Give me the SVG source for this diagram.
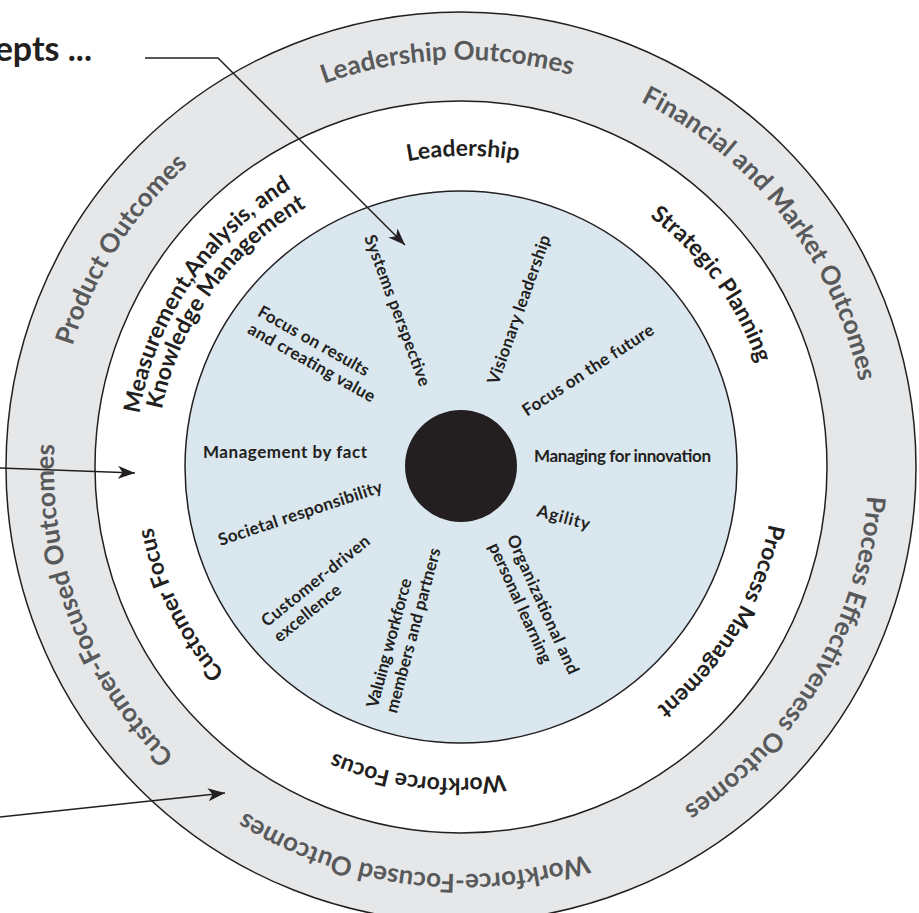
<svg xmlns="http://www.w3.org/2000/svg" xmlns:xlink="http://www.w3.org/1999/xlink" width="919" height="913" viewBox="0 0 919 913">
<defs>
<style>
.ring{stroke:#231f20;stroke-width:1.5}
.out{font-family:Lato,"Liberation Sans",sans-serif;font-weight:bold;font-size:26px;fill:#58595b}
.cat{font-family:Lato,"Liberation Sans",sans-serif;font-weight:bold;font-size:23px;fill:#231f20}
.val{font-family:Lato,"Liberation Sans",sans-serif;font-weight:bold;font-size:17px;fill:#231f20}
.con{fill:none;stroke:#231f20;stroke-width:1.5}
</style>
<marker id="ah" markerUnits="userSpaceOnUse" markerWidth="20" markerHeight="14" refX="17" refY="6.5" orient="auto">
<path d="M0,0 L17,6.5 L0,13 L4.5,6.5 z" fill="#231f20"/>
</marker>
<path id="po" d="M633.0,835.9 A407,407 0 1,1 289.0,98.1 A407,407 0 1,1 633.0,835.9"/>
<path id="pw" d="M591.6,747.0 A309,309 0 1,1 330.4,187.0 A309,309 0 1,1 591.6,747.0"/>
<path id="pm" d="M598.8,762.5 A326,326 0 1,1 323.2,171.5 A326,326 0 1,1 598.8,762.5"/>
<path id="pk" d="M588.6,740.7 A302,302 0 1,1 333.4,193.3 A302,302 0 1,1 588.6,740.7"/>
</defs>
<rect width="919" height="913" fill="#ffffff"/>

<g id="results-ring">
<circle class="ring" cx="461" cy="467" r="455" fill="#e6e7e8"/>
<text class="out"><textPath xlink:href="#po" href="#po" startOffset="56.4%" text-anchor="middle">Leadership Outcomes</textPath></text>
<text class="out"><textPath xlink:href="#po" href="#po" startOffset="71.4%" text-anchor="middle">Financial and Market Outcomes</textPath></text>
<text class="out"><textPath xlink:href="#po" href="#po" startOffset="90.4%" text-anchor="middle">Process Effectiveness Outcomes</textPath></text>
<text class="out"><textPath xlink:href="#po" href="#po" startOffset="8.9%" text-anchor="middle">Workforce-Focused Outcomes</textPath></text>
<text class="out"><textPath xlink:href="#po" href="#po" startOffset="26.1%" text-anchor="middle">Customer-Focused Outcomes</textPath></text>
<text class="out"><textPath xlink:href="#po" href="#po" startOffset="41.0%" text-anchor="middle">Product Outcomes</textPath></text>
</g>

<g id="process-ring">
<circle class="ring" cx="461" cy="467" r="366" fill="#ffffff"/>
<text class="cat"><textPath xlink:href="#pw" href="#pw" startOffset="57.0%" text-anchor="middle">Leadership</textPath></text>
<text class="cat"><textPath xlink:href="#pw" href="#pw" startOffset="71.9%" text-anchor="middle">Strategic Planning</textPath></text>
<text class="cat"><textPath xlink:href="#pw" href="#pw" startOffset="90.5%" text-anchor="middle">Process Management</textPath></text>
<text class="cat"><textPath xlink:href="#pw" href="#pw" startOffset="9.1%" text-anchor="middle">Workforce Focus</textPath></text>
<text class="cat"><textPath xlink:href="#pw" href="#pw" startOffset="24.7%" text-anchor="middle">Customer Focus</textPath></text>
<text class="cat"><textPath xlink:href="#pm" href="#pm" startOffset="41.4%" text-anchor="middle">Measurement,Analysis, and</textPath></text>
<text class="cat"><textPath xlink:href="#pk" href="#pk" startOffset="41.7%" text-anchor="middle">Knowledge Management</textPath></text>
</g>

<g id="core-values">
<circle class="ring" cx="461" cy="467" r="276" fill="#dae7ef"/>
<text class="val" transform="translate(364,237.6) rotate(69.5)" textLength="160" lengthAdjust="spacing">Systems perspective</text>
<text class="val" transform="translate(497.9,385.5) rotate(-70.3)" textLength="157" lengthAdjust="spacing">Visionary leadership</text>
<text class="val" transform="translate(527.1,416.7) rotate(-33.1)" textLength="153" lengthAdjust="spacing">Focus on the future</text>
<text class="val" x="534" y="462" textLength="177" lengthAdjust="spacing">Managing for innovation</text>
<text class="val" transform="translate(536,516) rotate(15)" textLength="54" lengthAdjust="spacing">Agility</text>
<g transform="translate(506.5,538.1) rotate(65.6)">
<text class="val" x="0" y="0" textLength="151" lengthAdjust="spacing">Organizational and</text>
<text class="val" x="0" y="20" textLength="130" lengthAdjust="spacing">personal learning</text>
</g>
<g transform="translate(377.4,708.8) rotate(-75)">
<text class="val" x="0" y="0" textLength="133" lengthAdjust="spacing">Valuing workforce</text>
<text class="val" x="0" y="20" textLength="170" lengthAdjust="spacing">members and partners</text>
</g>
<g transform="translate(267,627.4) rotate(-38.9)">
<text class="val" x="0" y="0" textLength="134" lengthAdjust="spacing">Customer-driven</text>
<text class="val" x="0" y="20" textLength="81" lengthAdjust="spacing">excellence</text>
</g>
<text class="val" transform="translate(220.4,545.9) rotate(-18.4)" textLength="172" lengthAdjust="spacing">Societal responsibility</text>
<text class="val" x="203" y="458" textLength="164" lengthAdjust="spacing">Management by fact</text>
<g transform="translate(256.4,315.2) rotate(29.4)">
<text class="val" x="0" y="0" textLength="125" lengthAdjust="spacing">Focus on results</text>
<text class="val" x="0" y="20" textLength="143" lengthAdjust="spacing">and creating value</text>
</g>
</g>

<g id="hub">
<circle cx="461" cy="466" r="56" fill="#231f20"/>
</g>

<g id="caption">
<text x="92" y="61" text-anchor="end" style="font-family:Lato,'Liberation Sans',sans-serif;font-weight:bold;font-size:34px;fill:#231f20">epts ...</text>
</g>

<g id="connectors">
<polyline class="con" points="145,58 218,58 405,245" marker-end="url(#ah)"/>
<line class="con" x1="0" y1="468" x2="135" y2="473" marker-end="url(#ah)"/>
<line class="con" x1="0" y1="817" x2="225" y2="793" marker-end="url(#ah)"/>
</g>
</svg>
